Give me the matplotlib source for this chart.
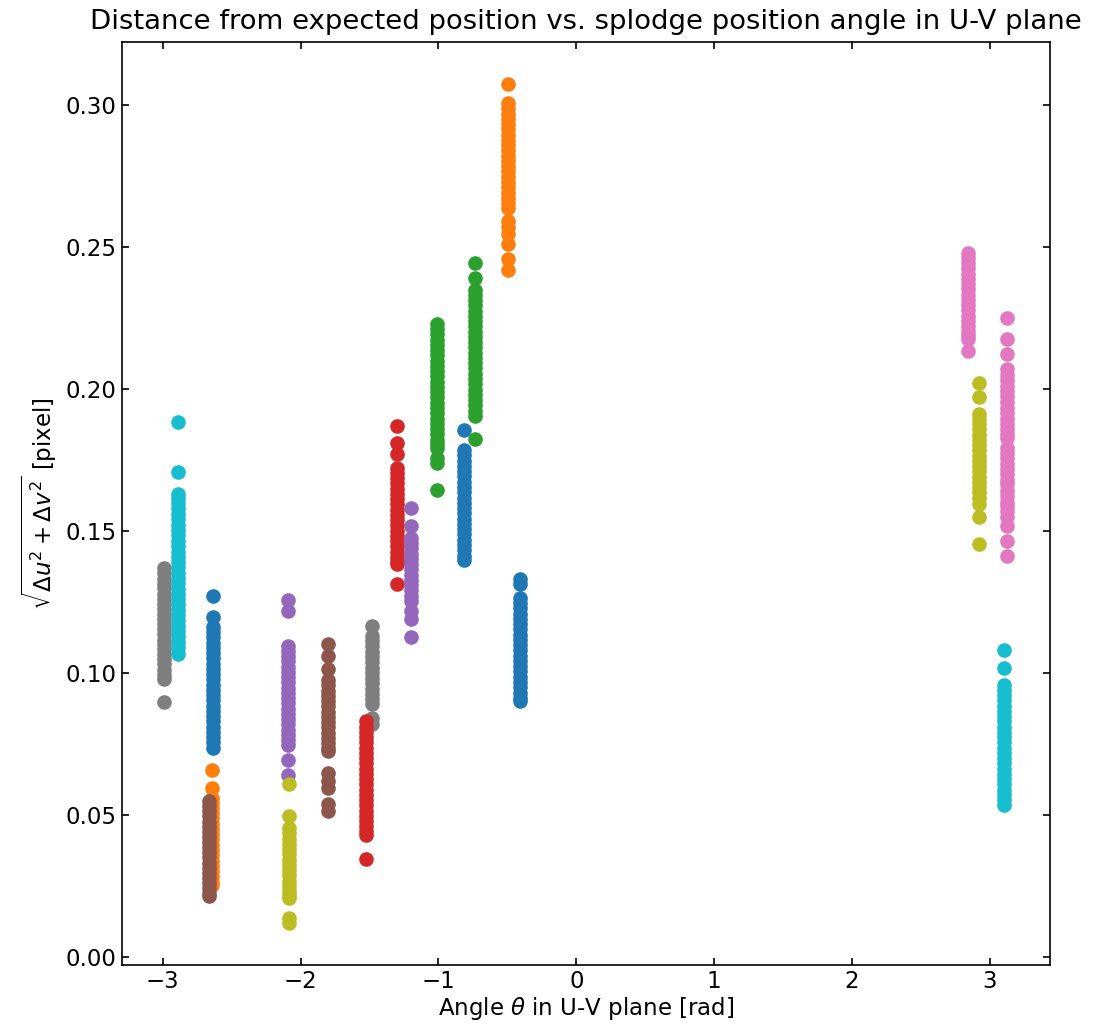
import matplotlib
matplotlib.use('Agg')
import matplotlib.pyplot as plt

plt.rcParams['font.size'] = 11

# angle of each baseline splodge [rad], in plotting order (colour cycle order)
angles = [-0.812, -0.495, -1.014, -1.304, -1.200, -1.802, 2.841, -1.481, 2.923, 3.101,
          -0.411, -2.645, -0.734, -1.529, -2.092, -2.664, 3.128, -2.990, -2.082, -2.887,
          -2.638]

# distance from expected position [pixel], one list per splodge
d_blue_a = [0.1854, 0.1784, 0.1766, 0.1747, 0.1729, 0.1710, 0.1692, 0.1673, 0.1655, 0.1636,
            0.1618, 0.1599, 0.1581, 0.1562, 0.1544, 0.1525, 0.1507, 0.1488, 0.1470, 0.1451,
            0.1433, 0.1414, 0.1397]
d_orange_a = [0.3073, 0.3005, 0.2987, 0.2968, 0.2950, 0.2931, 0.2913, 0.2894, 0.2876, 0.2857,
              0.2839, 0.2820, 0.2802, 0.2783, 0.2765, 0.2746, 0.2728, 0.2709, 0.2691, 0.2672,
              0.2654, 0.2638, 0.2592, 0.2568, 0.2545, 0.2509, 0.2456, 0.2418]
d_green_a = [0.2228, 0.2210, 0.2192, 0.2173, 0.2155, 0.2136, 0.2118, 0.2099, 0.2081, 0.2062,
             0.2044, 0.2025, 0.2007, 0.1988, 0.1970, 0.1951, 0.1933, 0.1914, 0.1896, 0.1877,
             0.1859, 0.1840, 0.1822, 0.1805, 0.1793, 0.1758, 0.1738, 0.1644]
d_red_a = [0.1870, 0.1811, 0.1772, 0.1723, 0.1705, 0.1686, 0.1668, 0.1649, 0.1631, 0.1612,
           0.1594, 0.1575, 0.1557, 0.1538, 0.1520, 0.1501, 0.1483, 0.1464, 0.1446, 0.1427,
           0.1409, 0.1394, 0.1383, 0.1313]
d_purple_a = [0.1582, 0.1518, 0.1476, 0.1458, 0.1439, 0.1421, 0.1402, 0.1384, 0.1365, 0.1347,
              0.1328, 0.1310, 0.1291, 0.1273, 0.1254, 0.1218, 0.1189, 0.1127]
d_brown_a = [0.1101, 0.1060, 0.1016, 0.0975, 0.0957, 0.0938, 0.0920, 0.0901, 0.0883, 0.0864,
             0.0846, 0.0827, 0.0809, 0.0790, 0.0772, 0.0753, 0.0736, 0.0725, 0.0649, 0.0622,
             0.0596, 0.0540, 0.0516]
d_pink_a = [0.2480, 0.2462, 0.2443, 0.2425, 0.2406, 0.2388, 0.2369, 0.2351, 0.2332, 0.2314,
            0.2295, 0.2277, 0.2258, 0.2240, 0.2221, 0.2205, 0.2190, 0.2175, 0.2134]
d_gray_a = [0.1165, 0.1130, 0.1112, 0.1094, 0.1075, 0.1057, 0.1038, 0.1020, 0.1001, 0.0983,
            0.0964, 0.0946, 0.0927, 0.0909, 0.0892, 0.0843, 0.0820]
d_olive_a = [0.2020, 0.1973, 0.1913, 0.1895, 0.1876, 0.1858, 0.1839, 0.1821, 0.1802, 0.1784,
             0.1765, 0.1747, 0.1728, 0.1710, 0.1691, 0.1673, 0.1654, 0.1636, 0.1617, 0.1594,
             0.1549, 0.1453]
d_cyan_a = [0.1081, 0.1019, 0.0960, 0.0942, 0.0923, 0.0905, 0.0886, 0.0868, 0.0849, 0.0831,
            0.0812, 0.0794, 0.0775, 0.0757, 0.0738, 0.0720, 0.0701, 0.0683, 0.0664, 0.0646,
            0.0627, 0.0609, 0.0590, 0.0572, 0.0553, 0.0538]
d_blue_b = [0.1330, 0.1313, 0.1265, 0.1247, 0.1228, 0.1210, 0.1191, 0.1173, 0.1154, 0.1136,
            0.1117, 0.1099, 0.1080, 0.1062, 0.1043, 0.1025, 0.1006, 0.0988, 0.0969, 0.0951,
            0.0932, 0.0914, 0.0901]
d_orange_b = [0.0658, 0.0596, 0.0562, 0.0545, 0.0527, 0.0508, 0.0490, 0.0471, 0.0452, 0.0434,
              0.0415, 0.0397, 0.0378, 0.0360, 0.0341, 0.0322, 0.0304, 0.0285, 0.0267, 0.0255]
d_green_b = [0.2444, 0.2391, 0.2349, 0.2331, 0.2312, 0.2294, 0.2275, 0.2257, 0.2238, 0.2220,
             0.2201, 0.2183, 0.2164, 0.2146, 0.2127, 0.2109, 0.2090, 0.2072, 0.2053, 0.2035,
             0.2016, 0.1998, 0.1979, 0.1961, 0.1942, 0.1924, 0.1905, 0.1823]
d_red_b = [0.0831, 0.0812, 0.0794, 0.0775, 0.0757, 0.0738, 0.0720, 0.0701, 0.0683, 0.0664,
           0.0646, 0.0627, 0.0609, 0.0590, 0.0572, 0.0553, 0.0535, 0.0516, 0.0498, 0.0479,
           0.0461, 0.0445, 0.0432, 0.0346]
d_purple_b = [0.1256, 0.1218, 0.1097, 0.1079, 0.1060, 0.1042, 0.1023, 0.1005, 0.0986, 0.0968,
              0.0949, 0.0931, 0.0912, 0.0894, 0.0875, 0.0857, 0.0838, 0.0820, 0.0801, 0.0783,
              0.0766, 0.0749, 0.0696, 0.0643]
d_brown_b = [0.0550, 0.0532, 0.0514, 0.0496, 0.0478, 0.0460, 0.0442, 0.0424, 0.0406, 0.0388,
             0.0370, 0.0352, 0.0334, 0.0316, 0.0298, 0.0280, 0.0262, 0.0244, 0.0228, 0.0215]
d_pink_b = [0.2248, 0.2175, 0.2124, 0.2069, 0.2050, 0.2031, 0.2012, 0.1993, 0.1975, 0.1955,
            0.1934, 0.1915, 0.1896, 0.1877, 0.1858, 0.1840, 0.1828, 0.1793, 0.1775, 0.1756,
            0.1737, 0.1718, 0.1700, 0.1681, 0.1664, 0.1641, 0.1622, 0.1604, 0.1587, 0.1570,
            0.1549, 0.1518, 0.1465, 0.1412]
d_gray_b = [0.0900, 0.0978, 0.0995, 0.1012, 0.1031, 0.1049, 0.1066, 0.1084, 0.1101, 0.1118,
            0.1137, 0.1155, 0.1172, 0.1190, 0.1208, 0.1226, 0.1243, 0.1261, 0.1280, 0.1298,
            0.1315, 0.1333, 0.1352, 0.1370]
d_olive_b = [0.0610, 0.0499, 0.0455, 0.0437, 0.0418, 0.0400, 0.0381, 0.0363, 0.0344, 0.0326,
             0.0307, 0.0289, 0.0270, 0.0252, 0.0233, 0.0220, 0.0209, 0.0138, 0.0121]
d_cyan_b = [0.1884, 0.1708, 0.1632, 0.1615, 0.1598, 0.1580, 0.1560, 0.1541, 0.1522, 0.1503,
            0.1485, 0.1466, 0.1447, 0.1428, 0.1410, 0.1392, 0.1373, 0.1354, 0.1335, 0.1316,
            0.1297, 0.1279, 0.1260, 0.1242, 0.1223, 0.1204, 0.1186, 0.1167, 0.1148, 0.1130,
            0.1111, 0.1092, 0.1068]
d_blue_c = [0.1273, 0.1197, 0.1162, 0.1145, 0.1127, 0.1108, 0.1090, 0.1071, 0.1053, 0.1034,
            0.1016, 0.0997, 0.0979, 0.0960, 0.0942, 0.0923, 0.0905, 0.0886, 0.0868, 0.0849,
            0.0831, 0.0812, 0.0794, 0.0775, 0.0757, 0.0737]

distances = [d_blue_a, d_orange_a, d_green_a, d_red_a, d_purple_a, d_brown_a, d_pink_a,
             d_gray_a, d_olive_a, d_cyan_a, d_blue_b, d_orange_b, d_green_b, d_red_b,
             d_purple_b, d_brown_b, d_pink_b, d_gray_b, d_olive_b, d_cyan_b, d_blue_c]

fig = plt.figure(figsize=(1119 / 150, 1024 / 150), dpi=150)
ax = fig.add_axes([0.109, 0.0576, 0.829, 0.9014])

for theta, dist in zip(angles, distances):
    ax.scatter([theta] * len(dist), dist)

ax.tick_params(direction='in', top=True, right=True, pad=2.5)
ax.set_xlabel(r'Angle $\theta$ in U-V plane [rad]', labelpad=1)
ax.set_ylabel(r'$\sqrt{\Delta u^2 + \Delta v^2}$ [pixel]', labelpad=3)
ax.set_title('Distance from expected position vs. splodge position angle in U-V plane')

fig.savefig('out.png', dpi=150)
